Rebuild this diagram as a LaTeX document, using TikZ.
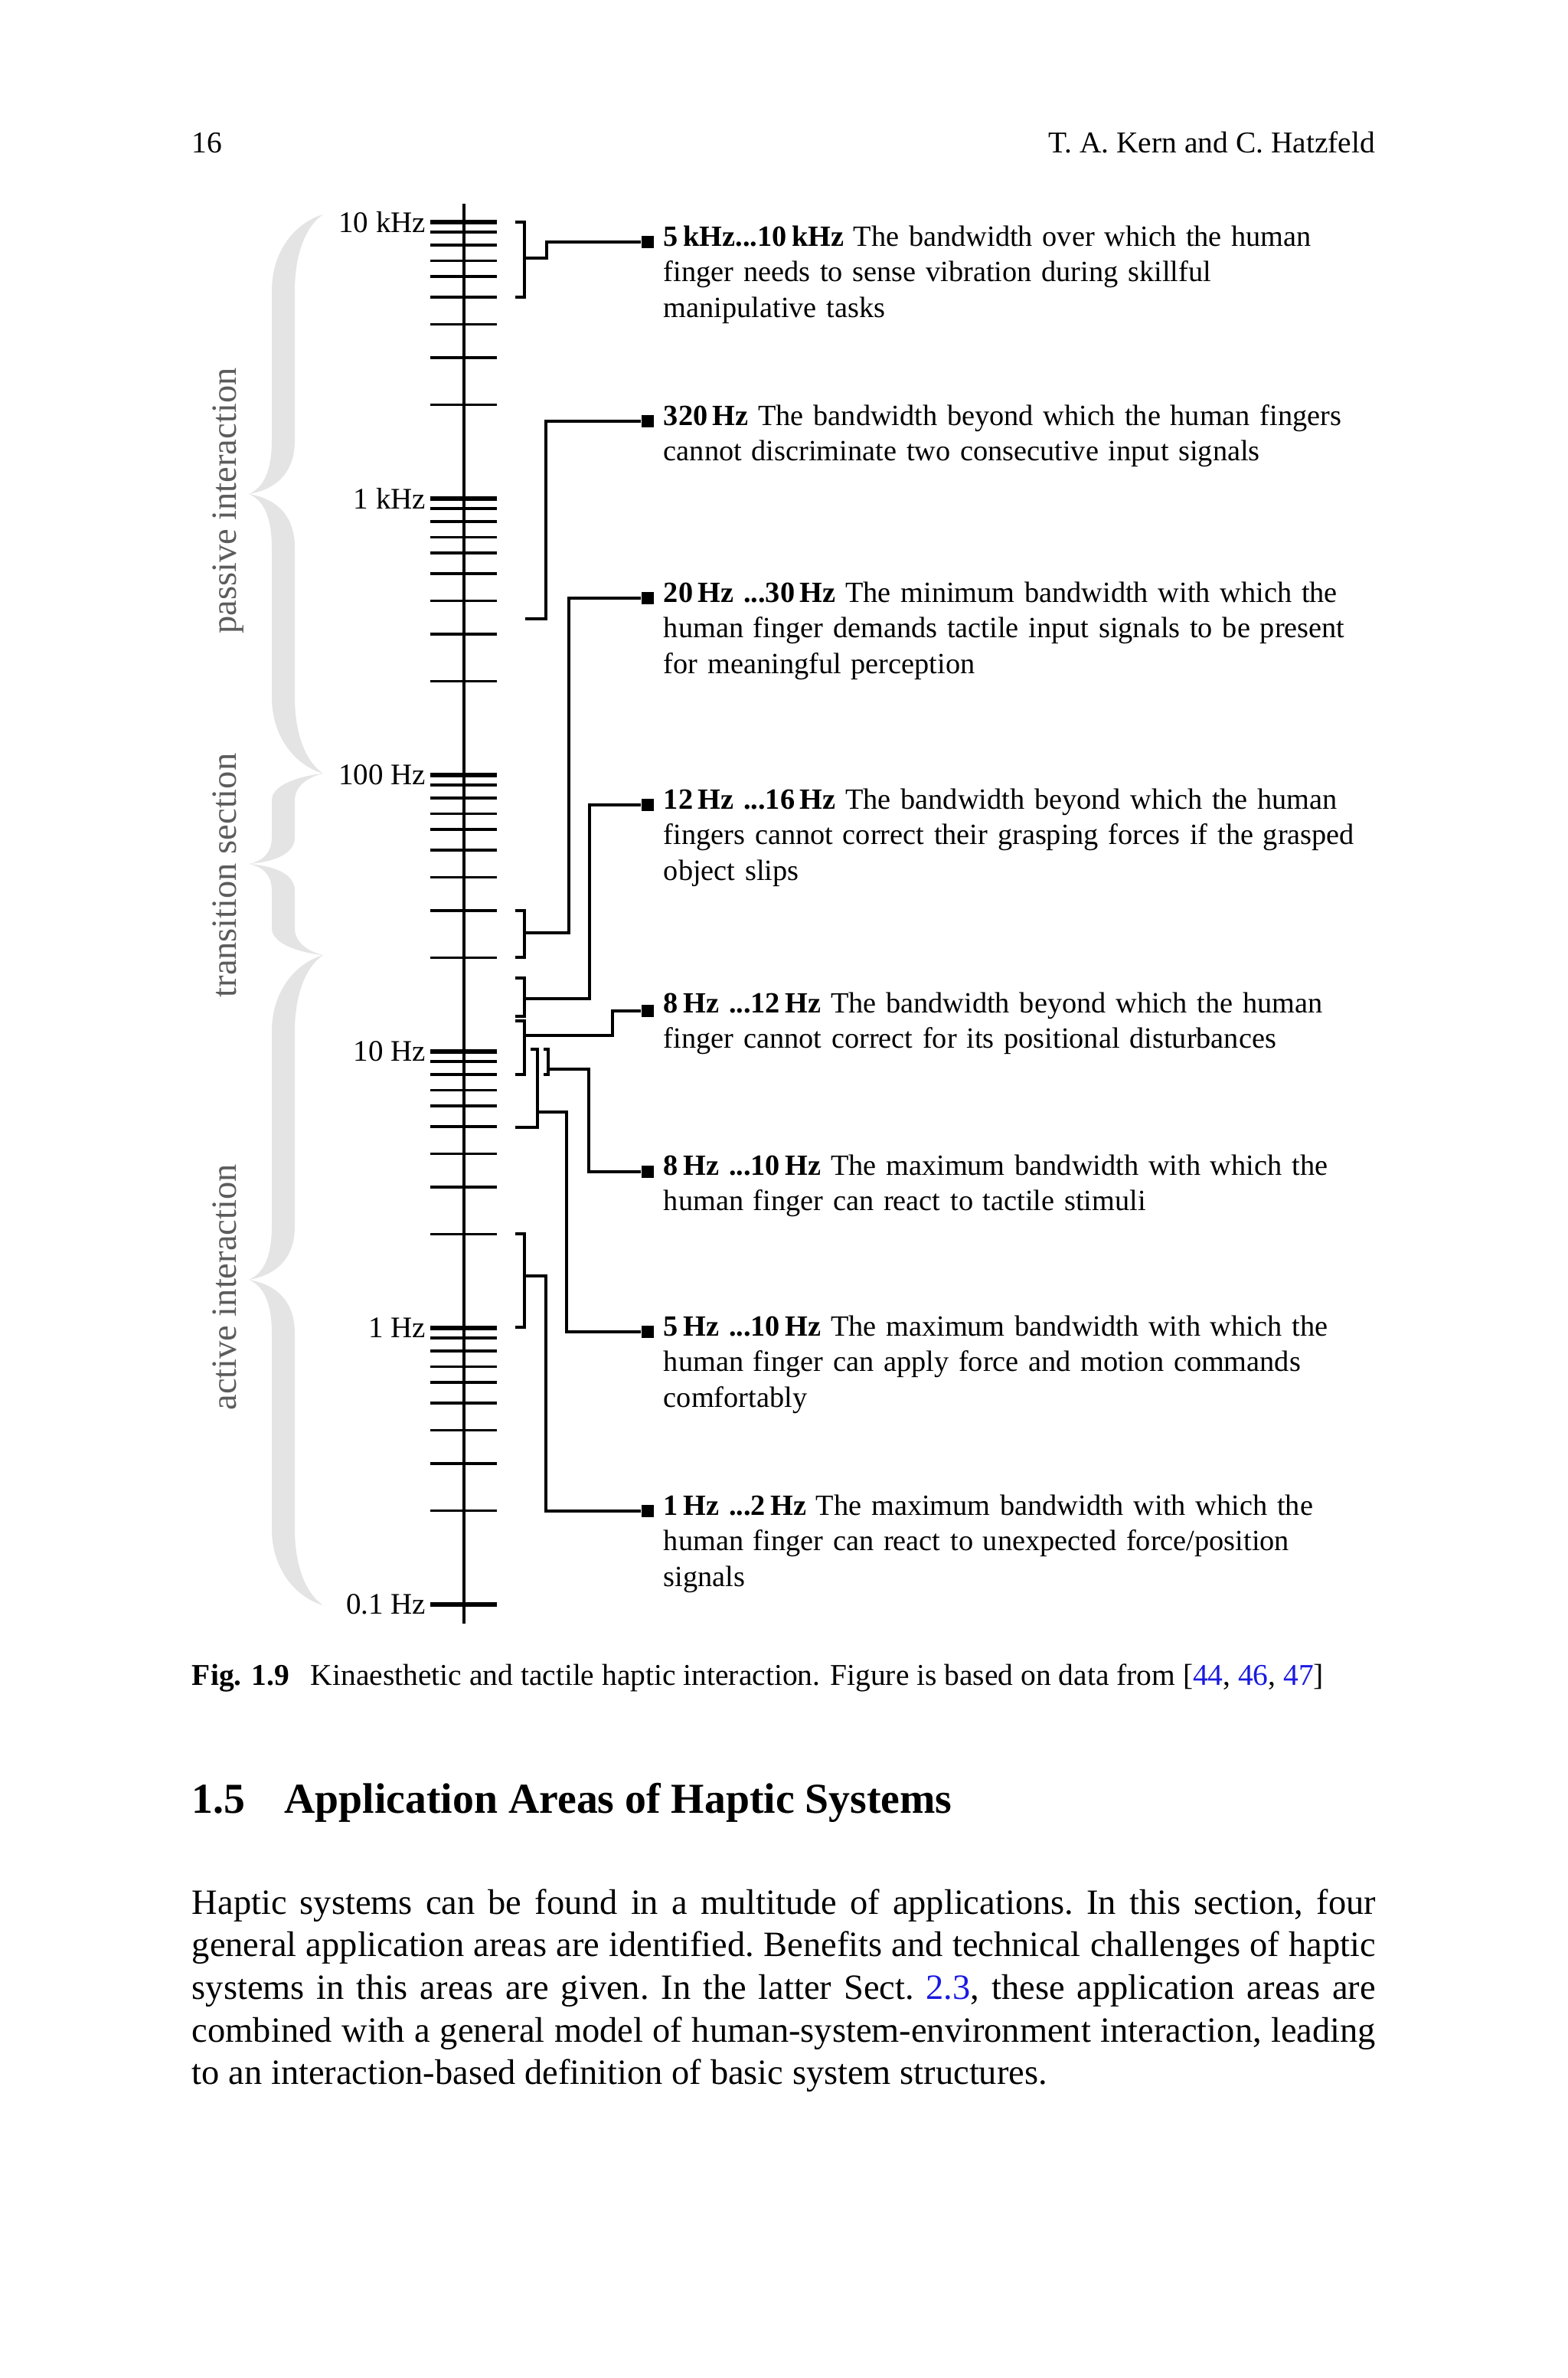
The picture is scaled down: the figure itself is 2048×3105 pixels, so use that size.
\documentclass[tikz,border=0pt]{standalone}
\usepackage{fontspec}
\setmainfont{Liberation Serif}
\usetikzlibrary{positioning, calc}
\definecolor{bracegray}{RGB}{228,228,228}
\definecolor{sidegray}{RGB}{92,92,92}
\definecolor{linkblue}{RGB}{25,25,225}
\tikzset{minortick/.style={line width=0.75pt},
    majortick/.style={line width=1.45pt},
    bracket/.style={line width=0.7pt},
    marker/.style={fill, inner sep=0pt, minimum size=3.4pt},
    lbl/.style={font=\fontsize{8.25}{10.1}\selectfont, text width=140mm, align=left, inner sep=0pt, anchor=base west},
    axlbl/.style={font=\fontsize{8.4}{10}\selectfont, inner sep=0pt, anchor=east},
    side/.style={font=\fontsize{10}{12}\selectfont, text=sidegray, rotate=90, anchor=base, inner sep=0pt}}
% grey curly brace: top, tip, bottom, end curve, tip curve
\newcommand{\greybrace}[5]{%
\fill[bracegray] (422,#1) .. controls (388,#1+0.1*#4) and (355,#1+0.45*#4) .. (355,#1+#4)
  -- (355,#2-#5) .. controls (355,#2-0.45*#5) and (345,#2-0.12*#5) .. (325,#2)
  .. controls (345,#2+0.12*#5) and (355,#2+0.45*#5) .. (355,#2+#5)
  -- (355,#3-#4) .. controls (355,#3-0.45*#4) and (388,#3-0.1*#4) .. (422,#3)
  .. controls (400,#3-0.15*#4) and (385,#3-0.5*#4) .. (385,#3-#4)
  -- (385,#2+#5) .. controls (385,#2+0.45*#5) and (365,#2+0.1*#5) .. (325,#2)
  .. controls (365,#2-0.1*#5) and (385,#2-0.45*#5) .. (385,#2-#5)
  -- (385,#1+#4) .. controls (385,#1+0.5*#4) and (400,#1+0.15*#4) .. (422,#1) -- cycle;}

\begin{document}
\begin{tikzpicture}[x=0.0756836mm, y=-0.0756836mm]
\fill[white] (0,0) rectangle (2048,3105);
\useasboundingbox (0,0) rectangle (2048,3105);
% running head
\node[font=\fontsize{8.5}{10}\selectfont, inner sep=0pt, anchor=base west] (page) at (250,199) {16};
\node[font=\fontsize{8.5}{10}\selectfont, inner sep=0pt, anchor=base east] (head) at (1797,199) {T. A. Kern and C. Hatzfeld};
% braces and side labels
\greybrace{280}{645}{1010}{100}{70}
\greybrace{1010}{1128}{1247}{35}{35}
\greybrace{1247}{1671}{2096}{100}{70}
\node[side] (passive) at (308,654) {passive interaction};
\node[side] (trans) at (308,1143) {transition section};
\node[side] (active) at (308,1681) {active interaction};
% frequency axis
\draw[minortick] (606,266) -- (606,2120);
\foreach \d/\t in {0/10 kHz, 1/1 kHz, 2/100 Hz, 3/10 Hz, 4/1 Hz, 5/0.1 Hz}{
  \draw[majortick] (562,290+361*\d) -- (649,290+361*\d);
  \node[axlbl] (dec\d) at (557,290+361*\d) {\t};
}
\foreach \d in {0,...,4}
  \foreach \o in {13,30,50.5,71,98,133.5,177,238.5}
    \draw[minortick] (562,290+361*\d+\o) -- (649,290+361*\d+\o);
% markers
\node[marker] (m1) at (846,316) {};
\node[marker] (m2) at (846,550) {};
\node[marker] (m3) at (846,781) {};
\node[marker] (m4) at (846,1051) {};
\node[marker] (m5) at (846,1320) {};
\node[marker] (m6) at (846,1530) {};
\node[marker] (m7) at (846,1739) {};
\node[marker] (m8) at (846,1973) {};
% labels
\node[lbl] (t1) at (866,321) {\textbf{5\,kHz...10\,kHz} The bandwidth over which the human\\finger needs to sense vibration during skillful\\manipulative tasks};
\node[lbl] (t2) at (866,555) {\textbf{320\,Hz} The bandwidth beyond which the human fingers\\cannot discriminate two consecutive input signals};
\node[lbl] (t3) at (866,786) {\textbf{20\,Hz ...30\,Hz} The minimum bandwidth with which the\\human finger demands tactile input signals to be present\\for meaningful perception};
\node[lbl] (t4) at (866,1056) {\textbf{12\,Hz ...16\,Hz} The bandwidth beyond which the human\\fingers cannot correct their grasping forces if the grasped\\object slips};
\node[lbl] (t5) at (866,1322) {\textbf{8\,Hz ...12\,Hz} The bandwidth beyond which the human\\finger cannot correct for its positional disturbances};
\node[lbl] (t6) at (866,1534) {\textbf{8\,Hz ...10\,Hz} The maximum bandwidth with which the\\human finger can react to tactile stimuli};
\node[lbl] (t7) at (866,1744) {\textbf{5\,Hz ...10\,Hz} The maximum bandwidth with which the\\human finger can apply force and motion commands\\comfortably};
\node[lbl] (t8) at (866,1978) {\textbf{1\,Hz ...2\,Hz} The maximum bandwidth with which the\\human finger can react to unexpected force/position\\signals};
% brackets and connectors
\draw[bracket] (673,290) -- (685,290) -- (685,388) -- (673,388);
\coordinate (s1) at (685,337);
\draw[bracket] (s1) -- (714,337) |- (m1.west);
\coordinate (s2) at (686,808);
\draw[bracket] (s2) -- (713,808) |- (m2.west);
\draw[bracket] (673,1189) -- (685,1189) -- (685,1250) -- (673,1250);
\coordinate (s3) at (685,1218);
\draw[bracket] (s3) -- (743,1218) |- (m3.west);
\draw[bracket] (673,1277) -- (685,1277) -- (685,1327) -- (673,1327);
\coordinate (s4) at (685,1304);
\draw[bracket] (s4) -- (770,1304) |- (m4.west);
\draw[bracket] (673,1333) -- (685,1333) -- (685,1403) -- (673,1403);
\coordinate (s5) at (685,1352);
\draw[bracket] (s5) -- (800,1352) |- (m5.west);
\draw[bracket] (710,1370) -- (716,1370) -- (716,1403) -- (710,1403);
\coordinate (s6) at (716,1396);
\draw[bracket] (s6) -- (769,1396) |- (m6.west);
\draw[bracket] (693,1370) -- (702,1370) -- (702,1472) -- (673,1472);
\coordinate (s7) at (702,1452);
\draw[bracket] (s7) -- (740,1452) |- (m7.west);
\draw[bracket] (673,1611) -- (685,1611) -- (685,1733) -- (673,1733);
\coordinate (s8) at (685,1666);
\draw[bracket] (s8) -- (713,1666) |- (m8.west);
% caption
\node[font=\fontsize{8.5}{10}\selectfont, inner sep=0pt, anchor=base west] (caption) at (250,2200)
  {\textbf{Fig. 1.9}\hspace{6pt}Kinaesthetic and tactile haptic interaction. Figure is based on data from [\textcolor{linkblue}{44}, \textcolor{linkblue}{46}, \textcolor{linkblue}{47}]};
% section heading
\node[font=\fontsize{12}{14}\selectfont\bfseries, inner sep=0pt, anchor=base west] (heading) at (250,2367)
  {\makebox[26pt][l]{1.5}Application Areas of Haptic Systems};
% body text
\node[inner sep=0pt, anchor=base west] (body) at (250,2499) {\parbox[t]{117mm}{\fontsize{10}{12}\selectfont
  \frenchspacing\hyphenpenalty=10000 \emergencystretch=3em
  Haptic systems can be found in a multitude of applications. In this section, four\linebreak
  general application areas are identified. Benefits and technical challenges of haptic\linebreak
  systems in this areas are given. In the latter Sect.~\textcolor{linkblue}{2.3}, these application areas are\linebreak
  combined with a general model of human-system-environment interaction, leading\linebreak
  to an interaction-based definition of basic system structures.}};
\end{tikzpicture}
\end{document}
